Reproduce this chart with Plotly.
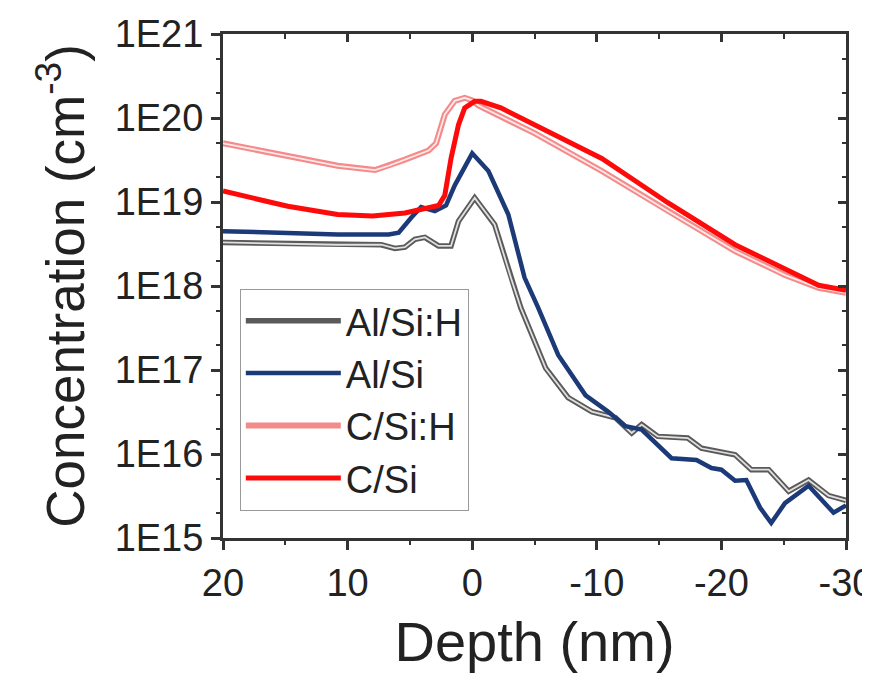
import plotly.graph_objects as go

# ---- data ----
depth_alsih = [20, 14.8, 10.8, 7.3, 6.2, 5.4, 4.6, 3.8, 2.7, 1.7, 1.1, -0.2, -1.8, -3.1, -3.9,
               -5.9, -7.7, -9.6, -11.5, -12.8, -13.6, -14.9, -17.3, -18.4, -21.1, -22.4,
               -23.8, -25.4, -27, -28.6, -30]
conc_alsih = [3.3e18, 3.2e18, 3.1e18, 3.1e18, 2.8e18, 2.9e18, 3.6e18, 3.8e18, 3.0e18, 3.0e18,
              5.9e18, 1.12e19, 5.4e18, 1.26e18, 5.5e17, 1.05e17, 4.7e16, 3.2e16, 2.7e16,
              1.78e16, 2.24e16, 1.62e16, 1.55e16, 1.17e16, 9.8e15, 6.5e15, 6.5e15, 3.6e15,
              4.9e15, 3.2e15, 2.8e15]

depth_alsi = [20, 14.8, 10.8, 6.7, 5.9, 4.9, 4.1, 3.0, 2.1, 1.4, 0, -1.3, -2.9, -4.2, -5.3,
              -6.9, -9.1, -10.9, -12.3, -13.6, -16, -18, -19.2, -20, -21.1, -22, -23.1, -24,
              -25.1, -27, -29, -30]
conc_alsi = [4.5e18, 4.2e18, 4.1e18, 4.1e18, 4.3e18, 6.5e18, 8.7e18, 7.8e18, 9.1e18, 1.58e19,
             3.8e19, 2.34e19, 7.1e18, 1.26e18, 5.5e17, 1.51e17, 5.0e16, 3.2e16, 2.14e16,
             1.95e16, 8.9e15, 8.5e15, 6.8e15, 6.5e15, 4.8e15, 4.9e15, 2.3e15, 1.51e15,
             2.6e15, 4.2e15, 2.0e15, 2.45e15]

depth_csih = [20, 14.8, 10.8, 7.8, 6.7, 5.4, 3.5, 2.9, 2.2, 1.4, 0.6, 0, -0.5, -5, -10.4,
              -15.7, -21.1, -25.1, -27.8, -30]
conc_csih = [5.0e19, 3.5e19, 2.7e19, 2.4e19, 2.7e19, 3.2e19, 4.1e19, 5.0e19, 1.1e20, 1.6e20,
             1.74e20, 1.62e20, 1.41e20, 6.6e19, 2.34e19, 7.8e18, 2.6e18, 1.35e18, 9.5e17,
             8.3e17]

depth_csi = [20, 14.8, 10.8, 8, 5.4, 2.7, 2.2, 1.7, 1.1, 0.6, -0.2, -0.7, -2.3, -5, -10.4,
             -13.1, -15.7, -21.1, -25.1, -27.8, -30]
conc_csi = [1.35e19, 8.9e18, 7.1e18, 6.8e18, 7.4e18, 9.1e18, 1.2e19, 3.3e19, 8.3e19, 1.32e20,
            1.58e20, 1.58e20, 1.32e20, 8.3e19, 3.3e19, 1.78e19, 9.8e18, 3.1e18, 1.62e18,
            1.02e18, 8.9e17]

y_tickvals = [1e15, 1e16, 1e17, 1e18, 1e19, 1e20, 1e21]
y_ticktext = ["1E15", "1E16", "1E17", "1E18", "1E19", "1E20", "1E21"]
x_tickvals = [20, 10, 0, -10, -20, -30]
x_ticktext = ["20", "10", "0", "-10", "-20", "-30"]

FONT = "Liberation Sans, Arial, sans-serif"

fig = go.Figure()

# Al/Si:H : gray double line
fig.add_trace(go.Scatter(x=depth_alsih, y=conc_alsih, mode="lines", name="Al/Si:H",
                         legendgroup="a", line=dict(color="#5a5a5a", width=5.5)))
fig.add_trace(go.Scatter(x=depth_alsih, y=conc_alsih, mode="lines", showlegend=False,
                         legendgroup="a", hoverinfo="skip",
                         line=dict(color="#e0e0e0", width=1.8)))
# Al/Si : navy
fig.add_trace(go.Scatter(x=depth_alsi, y=conc_alsi, mode="lines", name="Al/Si",
                         legendgroup="b", line=dict(color="#1c3a78", width=4.5)))
# C/Si:H : pink double line
fig.add_trace(go.Scatter(x=depth_csih, y=conc_csih, mode="lines", name="C/Si:H",
                         legendgroup="c", line=dict(color="#f48a8a", width=6)))
fig.add_trace(go.Scatter(x=depth_csih, y=conc_csih, mode="lines", showlegend=False,
                         legendgroup="c", hoverinfo="skip",
                         line=dict(color="#fde8e8", width=1.8)))
# C/Si : red
fig.add_trace(go.Scatter(x=depth_csi, y=conc_csi, mode="lines", name="C/Si",
                         legendgroup="d", line=dict(color="#ff0a0a", width=5)))
# empty trace so that the mirrored (top/right) axes get drawn
fig.add_trace(go.Scatter(x=[None], y=[None], xaxis="x2", yaxis="y2", mode="lines",
                         showlegend=False, hoverinfo="skip"))

axis_common = dict(showline=True, linecolor="#333333", linewidth=3, showgrid=False,
                   zeroline=False, tickcolor="#333333", tickwidth=2.5, automargin=False)

fig.update_layout(
    width=870, height=673,
    margin=dict(l=215, r=32, t=26, b=143),
    paper_bgcolor="white", plot_bgcolor="white",
    font=dict(family=FONT, color="#222222"),
    showlegend=True,
    legend=dict(x=0.027, y=0.495, xanchor="left", yanchor="top",
                bgcolor="rgba(255,255,255,0)", bordercolor="#9a9a9a", borderwidth=1,
                font=dict(size=38, family=FONT, color="#222222"),
                tracegroupgap=0, itemwidth=95),
    xaxis=dict(range=[20, -30], tickvals=x_tickvals, ticktext=x_ticktext,
               ticks="outside", ticklen=9,
               minor=dict(ticks="outside", ticklen=4, dtick=5, tick0=0,
                          tickcolor="#333333", tickwidth=2),
               tickfont=dict(size=38, family=FONT),
               title=dict(text="Depth (nm)", font=dict(size=56, family=FONT), standoff=20),
               **axis_common),
    yaxis=dict(type="log", range=[15, 21], tickvals=y_tickvals, ticktext=y_ticktext,
               ticks="outside", ticklen=9,
               minor=dict(ticks="outside", ticklen=4, tickcolor="#333333", tickwidth=1.5),
               tickfont=dict(size=38, family=FONT),
               title=dict(text="Concentration (cm<sup>-3</sup>)",
                          font=dict(size=53, family=FONT), standoff=14),
               **axis_common),
    xaxis2=dict(overlaying="x", side="top", range=[20, -30], tickvals=x_tickvals,
                showticklabels=False, ticks="inside", ticklen=8,
                minor=dict(ticks="inside", ticklen=5, dtick=5, tick0=0,
                           tickcolor="#333333", tickwidth=2),
                **axis_common),
    yaxis2=dict(overlaying="y", side="right", type="log", range=[15, 21],
                tickvals=y_tickvals, showticklabels=False, ticks="inside", ticklen=8,
                minor=dict(ticks="inside", ticklen=4, tickcolor="#333333", tickwidth=1.5),
                **axis_common),
)

fig.write_html("out.html")
